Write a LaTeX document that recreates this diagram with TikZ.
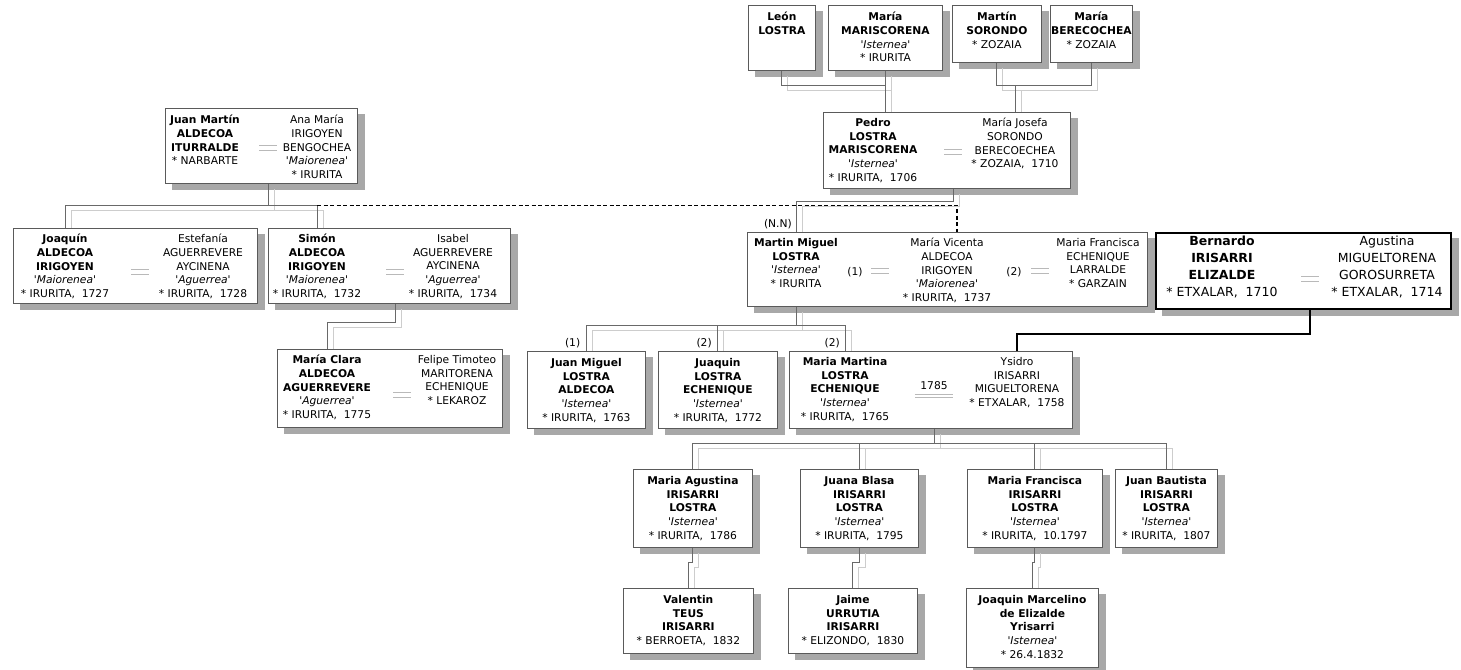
\documentclass[tikz,border=0pt]{standalone}
\usepackage{fontspec}
\setmainfont{DejaVu Sans}[ItalicFont={DejaVu Sans Oblique}, BoldFont={DejaVu Sans Bold}, BoldItalicFont={DejaVu Sans Bold Oblique}]
\usetikzlibrary{positioning, calc}

\pgfdeclarelayer{paper}
\pgfdeclarelayer{wires}
\pgfsetlayers{paper,wires,main}

\definecolor{boxline}{RGB}{90,90,90}
\definecolor{boxshade}{RGB}{168,168,168}
\definecolor{linkdark}{RGB}{105,105,105}
\definecolor{linklight}{RGB}{205,205,205}
\definecolor{eqgray}{RGB}{185,185,185}

\newcommand{\apodo}[1]{\textit{\textquotesingle#1\textquotesingle}}

\tikzset{
    pbox/.style = {draw = boxline, fill = white, line width = 0.8pt, inner sep = 0pt, anchor = north west},
    heirbox/.style = {pbox, draw = black, line width = 1.6pt},
    who/.style = {anchor = north, align = center, inner sep = 0pt, font = \fontsize{10.7}{13.7}\selectfont, execute at begin node = \strut},
    bigwho/.style = {who, font = \fontsize{12.5}{17}\selectfont},
    tag/.style = {inner sep = 0pt, font = \fontsize{10.7}{13.7}\selectfont},
    eqline/.style = {draw = eqgray, line width = 1.1pt, double = white, double distance = 3.4pt},
    wedline/.style = {draw = eqgray, line width = 1pt, double = white, double distance = 2pt},
    eqsign/.style = {inner sep = 0pt, minimum width = 17pt, append after command = {(\tikzlastnode.west) edge [eqline] (\tikzlastnode.east)}},
    wedsign/.style = {inner sep = 0pt, minimum width = 38pt, append after command = {(\tikzlastnode.west) edge [wedline] (\tikzlastnode.east)}},
    link/.style = {draw = linkdark, line width = 0.9pt, preaction = {draw = linklight, line width = 0.9pt, transform canvas = {shift = {(6pt, -5pt)}}}},
    maybe/.style = {draw = black, line width = 1.1pt, dash pattern = on 4pt off 2.5pt},
    blood/.style = {draw = black, line width = 1.8pt},
}

\begin{document}
\begin{tikzpicture}[x = 1pt, y = -1pt]
        \useasboundingbox (0, 0) rectangle (1461, 669);

        \node (leonbox) at (748, 5) [pbox, minimum width = 67pt, minimum height = 65pt] {};
        \node (leon) [who, below = 7pt of leonbox.north] {\textbf{León}\\\textbf{LOSTRA}};
        \node (mariscorbox) at (828, 5) [pbox, minimum width = 114pt, minimum height = 65pt] {};
        \node (mariscor) [who, below = 7pt of mariscorbox.north] {\textbf{María}\\\textbf{MARISCORENA}\\\apodo{Isternea}\\* IRURITA};
        \node (sorondobox) at (952, 5) [pbox, minimum width = 89pt, minimum height = 57pt] {};
        \node (sorondo) [who, below = 7pt of sorondobox.north] {\textbf{Martín}\\\textbf{SORONDO}\\* ZOZAIA};
        \node (berecobox) at (1050, 5) [pbox, minimum width = 82pt, minimum height = 57pt] {};
        \node (bereco) [who, below = 7pt of berecobox.north] {\textbf{María}\\\textbf{BERECOCHEA}\\* ZOZAIA};

        \node (jmbox) at (165, 108) [pbox, minimum width = 192pt, minimum height = 75pt] {};
        \node (juanmartin) at (205, 115) [who] {\textbf{Juan Martín}\\\textbf{ALDECOA}\\\textbf{ITURRALDE}\\* NARBARTE};
        \node (anamaria) at (317, 115) [who] {Ana María\\IRIGOYEN\\BENGOCHEA\\\apodo{Maiorenea}\\* IRURITA};
        \node (eqjm) at (268, 148) [eqsign] {};

        \node (pedrobox) at (823, 112) [pbox, minimum width = 247pt, minimum height = 76pt] {};
        \node (pedro) at (873, 118) [who] {\textbf{Pedro}\\\textbf{LOSTRA}\\\textbf{MARISCORENA}\\\apodo{Isternea}\\* IRURITA,\ \ 1706};
        \node (mjosefa) at (1015, 118) [who] {María Josefa\\SORONDO\\BERECOECHEA\\* ZOZAIA,\ \ 1710};
        \node (eqpedro) at (953, 152) [eqsign] {};

        \node (joaquinbox) at (13, 228) [pbox, minimum width = 244pt, minimum height = 75pt] {};
        \node (joaquin) at (65, 234) [who] {\textbf{Joaquín}\\\textbf{ALDECOA}\\\textbf{IRIGOYEN}\\\apodo{Maiorenea}\\* IRURITA,\ \ 1727};
        \node (estefania) at (203, 234) [who] {Estefanía\\AGUERREVERE\\AYCINENA\\\apodo{Aguerrea}\\* IRURITA,\ \ 1728};
        \node (eqjoaquin) at (140, 272) [eqsign] {};

        \node (simonbox) at (268, 228) [pbox, minimum width = 242pt, minimum height = 75pt] {};
        \node (simon) at (317, 234) [who] {\textbf{Simón}\\\textbf{ALDECOA}\\\textbf{IRIGOYEN}\\\apodo{Maiorenea}\\* IRURITA,\ \ 1732};
        \node (isabel) at (453, 234) [who] {Isabel\\AGUERREVERE\\AYCINENA\\\apodo{Aguerrea}\\* IRURITA,\ \ 1734};
        \node (eqsimon) at (395, 272) [eqsign] {};

        \node (mmbox) at (747, 232) [pbox, minimum width = 400pt, minimum height = 74pt] {};
        \node (mmiguel) at (796, 238) [who] {\textbf{Martin Miguel}\\\textbf{LOSTRA}\\\apodo{Isternea}\\* IRURITA};
        \node (mvicenta) at (947, 238) [who] {María Vicenta\\ALDECOA\\IRIGOYEN\\\apodo{Maiorenea}\\* IRURITA,\ \ 1737};
        \node (mfranc) at (1098, 238) [who] {Maria Francisca\\ECHENIQUE\\LARRALDE\\* GARZAIN};
        \node (nrone) at (855, 272) [tag] {(1)};
        \node (eqmv) at (880, 271) [eqsign] {};
        \node (nrtwo) at (1014, 272) [tag] {(2)};
        \node (eqmf) at (1040, 271) [eqsign] {};
        \node (nn) at ($(mmiguel.north |- mmbox.north) + (-4, -3)$) [tag, anchor = south east] {(N.N)};

        \node (bernbox) at (1155, 232) [heirbox, minimum width = 295pt, minimum height = 76pt] {};
        \node (bernardo) at (1222, 236) [bigwho] {\textbf{Bernardo}\\\textbf{IRISARRI}\\\textbf{ELIZALDE}\\* ETXALAR,\ \ 1710};
        \node (agustina) at (1387, 236) [bigwho] {Agustina\\MIGUELTORENA\\GOROSURRETA\\* ETXALAR,\ \ 1714};
        \node (eqbern) at (1310, 279) [eqsign] {};

        \node (mclarabox) at (277, 349) [pbox, minimum width = 225pt, minimum height = 78pt] {};
        \node (mclara) at (327, 355) [who] {\textbf{María Clara}\\\textbf{ALDECOA}\\\textbf{AGUERREVERE}\\\apodo{Aguerrea}\\* IRURITA,\ \ 1775};
        \node (felipe) at (457, 355) [who] {Felipe Timoteo\\MARITORENA\\ECHENIQUE\\* LEKAROZ};
        \node (eqmc) at (402, 395) [eqsign] {};

        \node (jmiguelbox) at (527, 351) [pbox, minimum width = 118pt, minimum height = 77pt] {};
        \node (jmiguel) [who, below = 7pt of jmiguelbox.north] {\textbf{Juan Miguel}\\\textbf{LOSTRA}\\\textbf{ALDECOA}\\\apodo{Isternea}\\* IRURITA,\ \ 1763};
        \node (juaquinbox) at (658, 351) [pbox, minimum width = 119pt, minimum height = 77pt] {};
        \node (juaquin) [who, below = 7pt of juaquinbox.north] {\textbf{Juaquin}\\\textbf{LOSTRA}\\\textbf{ECHENIQUE}\\\apodo{Isternea}\\* IRURITA,\ \ 1772};
        \node (mmartbox) at (789, 351) [pbox, minimum width = 283pt, minimum height = 77pt] {};
        \node (mmartina) at (845, 357) [who] {\textbf{Maria Martina}\\\textbf{LOSTRA}\\\textbf{ECHENIQUE}\\\apodo{Isternea}\\* IRURITA,\ \ 1765};
        \node (ysidro) at (1017, 357) [who] {Ysidro\\IRISARRI\\MIGUELTORENA\\* ETXALAR,\ \ 1758};
        \node (y1785) at (934, 386) [tag] {1785};
        \node (eq1785) [wedsign, below = 5pt of y1785] {};

        \node (lblone) at ($(jmiguel.north |- jmiguelbox.north) + (-6, -3)$) [tag, anchor = south east] {(1)};
        \node (lbltwo) at ($(juaquin.north |- juaquinbox.north) + (-6, -3)$) [tag, anchor = south east] {(2)};
        \node (lblthree) at ($(mmartina.north |- mmartbox.north) + (-5, -3)$) [tag, anchor = south east] {(2)};

        \node (magbox) at (633, 469) [pbox, minimum width = 119pt, minimum height = 78pt] {};
        \node (magustina) [who, below = 7pt of magbox.north] {\textbf{Maria Agustina}\\\textbf{IRISARRI}\\\textbf{LOSTRA}\\\apodo{Isternea}\\* IRURITA,\ \ 1786};
        \node (jblbox) at (800, 469) [pbox, minimum width = 118pt, minimum height = 78pt] {};
        \node (jblasa) [who, below = 7pt of jblbox.north] {\textbf{Juana Blasa}\\\textbf{IRISARRI}\\\textbf{LOSTRA}\\\apodo{Isternea}\\* IRURITA,\ \ 1795};
        \node (mfrbox) at (967, 469) [pbox, minimum width = 135pt, minimum height = 78pt] {};
        \node (mfrancisca) [who, below = 7pt of mfrbox.north] {\textbf{Maria Francisca}\\\textbf{IRISARRI}\\\textbf{LOSTRA}\\\apodo{Isternea}\\* IRURITA,\ \ 10.1797};
        \node (jbbox) at (1115, 469) [pbox, minimum width = 102pt, minimum height = 78pt] {};
        \node (jbautista) [who, below = 7pt of jbbox.north] {\textbf{Juan Bautista}\\\textbf{IRISARRI}\\\textbf{LOSTRA}\\\apodo{Isternea}\\* IRURITA,\ \ 1807};

        \node (valbox) at (623, 588) [pbox, minimum width = 130pt, minimum height = 65pt] {};
        \node (valentin) [who, below = 7pt of valbox.north] {\textbf{Valentin}\\\textbf{TEUS}\\\textbf{IRISARRI}\\* BERROETA,\ \ 1832};
        \node (jaimebox) at (788, 588) [pbox, minimum width = 129pt, minimum height = 65pt] {};
        \node (jaime) [who, below = 7pt of jaimebox.north] {\textbf{Jaime}\\\textbf{URRUTIA}\\\textbf{IRISARRI}\\* ELIZONDO,\ \ 1830};
        \node (jmarbox) at (966, 588) [pbox, minimum width = 132pt, minimum height = 79pt] {};
        \node (jmarcelino) [who, below = 7pt of jmarbox.north] {\textbf{Joaquin Marcelino}\\\textbf{de Elizalde}\\\textbf{Yrisarri}\\\apodo{Isternea}\\* 26.4.1832};

        \begin{pgfonlayer}{paper}
        \fill [white] (0, 0) rectangle (1461, 669);
        \foreach \b in {leonbox, mariscorbox, sorondobox, berecobox, jmbox, pedrobox, joaquinbox, simonbox, mmbox, bernbox, mclarabox, jmiguelbox, juaquinbox, mmartbox, magbox, jblbox, mfrbox, jbbox, valbox, jaimebox, jmarbox}
            \fill [boxshade] ($(\b.north west) + (7, 6)$) rectangle ($(\b.south east) + (7, 6)$);
        \end{pgfonlayer}

        \begin{pgfonlayer}{wires}
        \draw [link] (leon.north |- leonbox.south) -- ++(0, 15) coordinate (leonbar) -| (mariscor.north |- pedrobox.north);
        \draw [link] (mariscor.north |- mariscorbox.south) -- (mariscor.north |- leonbar);
        \draw [link] (sorondo.north |- sorondobox.south) -- ++(0, 23) coordinate (sorbar) -| (bereco.north |- berecobox.south);
        \draw [link] (mjosefa.north |- sorbar) -- (mjosefa.north |- pedrobox.north);

        \draw [link] (eqjm |- jmbox.south) -- ++(0, 22) coordinate (jmbar);
        \draw [link] (joaquin.north |- joaquinbox.north) |- (jmbar) -| (simon.north |- simonbox.north);
        \draw [maybe] (simon.north |- jmbar) -| ($(mvicenta.north |- mmbox.north) + (10, 0)$);

        \draw [link] (eqpedro |- pedrobox.south) -- ++(0, 13) -| (mmiguel.north |- mmbox.north);
        \draw [link] (mmiguel.north |- mmbox.south) -- ++(0, 19) coordinate (mmbar);
        \draw [link] (jmiguel.north |- jmiguelbox.north) |- (mmbar) -| (mmartina.north |- mmartbox.north);
        \draw [link] (juaquin.north |- juaquinbox.north) -- (juaquin.north |- mmbar);

        \draw [link] (eqsimon |- simonbox.south) -- ++(0, 19) -| (mclara.north |- mclarabox.north);
        \draw [blood] (eqbern |- bernbox.south) -- ++(0, 24) -| (ysidro.north |- mmartbox.north);

        \draw [link] (eq1785 |- mmartbox.south) -- ++(0, 15) coordinate (mmartbar);
        \draw [link] (magustina.north |- magbox.north) |- (mmartbar) -| (jbautista.north |- jbbox.north);
        \draw [link] (jblasa.north |- jblbox.north) -- (jblasa.north |- mmartbar);
        \draw [link] (mfrancisca.north |- mfrbox.north) -- (mfrancisca.north |- mmartbar);

        \draw [link] (magustina.north |- magbox.south) -- ++(0, 15) -| (valentin.north |- valbox.north);
        \draw [link] (jblasa.north |- jblbox.south) -- ++(0, 15) -| (jaime.north |- jaimebox.north);
        \draw [link] (mfrancisca.north |- mfrbox.south) -- ++(0, 15) -| (jmarcelino.north |- jmarbox.north);
        \end{pgfonlayer}
    \end{tikzpicture}
\end{document}
